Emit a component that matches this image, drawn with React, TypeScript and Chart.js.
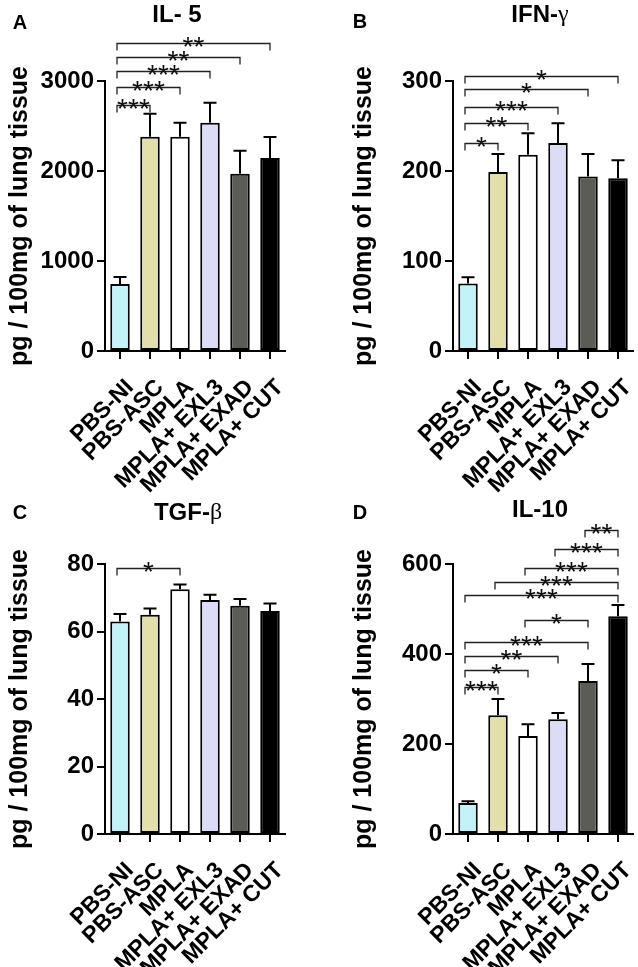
import React, { useEffect, useRef } from 'react';
import { Chart, registerables } from 'chart.js';

Chart.register(...registerables);

// ---------- data ----------
const categories = ['PBS-NI', 'PBS-ASC', 'MPLA', 'MPLA+ EXL3', 'MPLA+ EXAD', 'MPLA+ CUT'];
const barColors = ['#c2f3f9', '#e2e0a8', '#ffffff', '#dcdcf8', '#5a5c55', '#000000'];

const il5Mean = [745, 2380, 2380, 2535, 1970, 2145];
const il5Sem = [78, 255, 155, 222, 255, 233];
const il5Ticks = [0, 1000, 2000, 3000];
// [from, to, level, stars]
const il5Brackets: [number, number, number, string][] = [
  [0, 1, 2733, '***'],
  [0, 2, 2930, '***'],
  [0, 3, 3114, '***'],
  [0, 4, 3270, '**'],
  [0, 5, 3426, '**'],
];

const ifnMean = [75, 199, 218, 231, 194, 192];
const ifnSem = [7, 20, 24, 22, 25, 20];
const ifnTicks = [0, 100, 200, 300];
const ifnBrackets: [number, number, number, string][] = [
  [0, 1, 231, '*'],
  [0, 2, 253, '**'],
  [0, 3, 271, '***'],
  [0, 4, 291, '*'],
  [0, 5, 306, '*'],
];

const tgfMean = [63, 65, 72.5, 69.3, 67.6, 66.1];
const tgfSem = [2.2, 1.8, 1.4, 1.6, 2.0, 2.2];
const tgfTicks = [0, 20, 40, 60, 80];
const tgfBrackets: [number, number, number, string][] = [[0, 2, 78.8, '*']];

const il10Mean = [69, 264, 218, 255, 340, 484];
const il10Sem = [4, 36, 26, 14, 38, 25];
const il10Ticks = [0, 200, 400, 600];
const il10Brackets: [number, number, number, string][] = [
  [0, 1, 327, '***'],
  [0, 2, 364, '*'],
  [0, 3, 396, '**'],
  [0, 4, 427, '***'],
  [2, 4, 476, '*'],
  [0, 5, 531, '***'],
  [1, 5, 560, '***'],
  [2, 5, 591, '***'],
  [3, 5, 633, '***'],
  [4, 5, 676, '**'],
];

const yAxisTitle = 'pg / 100mg of lung tissue';

// ---------- styling ----------
const SANS = '"Liberation Sans", Arial, sans-serif';
const SERIF = '"Liberation Serif", "Times New Roman", serif';
const W = 319;
const H = 500;
const AREA_TOP = 81;
const AREA_BOTTOM = 351;

type Part = { t: string; f: string };
type PanelCfg = {
  letter: string;
  title: Part[];
  mean: number[];
  sem: number[];
  ticks: number[];
  brackets: [number, number, number, string][];
  left: number;
  top: number;
  axisLeft: number;
  padRight: number;
  titleX: number;
  titleY: number;
  letterX: number;
  letterY: number;
  yTitlePad: number;
};

const TITLE_BOLD = `bold 24px ${SANS}`;
const TITLE_GREEK = `24px ${SERIF}`;

const panels: PanelCfg[] = [
  {
    letter: 'A', title: [{ t: 'IL- 5', f: TITLE_BOLD }], mean: il5Mean, sem: il5Sem, ticks: il5Ticks,
    brackets: il5Brackets, left: 0, top: 0, axisLeft: 105, padRight: 34, titleX: 177, titleY: 15,
    letterX: 20, letterY: 23, yTitlePad: 5,
  },
  {
    letter: 'B', title: [{ t: 'IFN-', f: TITLE_BOLD }, { t: 'γ', f: TITLE_GREEK }], mean: ifnMean, sem: ifnSem,
    ticks: ifnTicks, brackets: ifnBrackets, left: 319, top: 0, axisLeft: 134, padRight: 5, titleX: 221,
    titleY: 15, letterX: 41, letterY: 22, yTitlePad: 30,
  },
  {
    letter: 'C', title: [{ t: 'TGF-', f: TITLE_BOLD }, { t: 'β', f: TITLE_GREEK }], mean: tgfMean, sem: tgfSem,
    ticks: tgfTicks, brackets: tgfBrackets, left: 0, top: 483, axisLeft: 105, padRight: 34, titleX: 188,
    titleY: 30, letterX: 20, letterY: 30, yTitlePad: 5,
  },
  {
    letter: 'D', title: [{ t: 'IL-10', f: TITLE_BOLD }], mean: il10Mean, sem: il10Sem, ticks: il10Ticks,
    brackets: il10Brackets, left: 319, top: 483, axisLeft: 134, padRight: 5, titleX: 221, titleY: 27,
    letterX: 41, letterY: 30, yTitlePad: 30,
  },
];

function makeOverlay(p: PanelCfg) {
  return {
    id: 'overlay' + p.letter,
    afterDatasetsDraw(chart: any) {
      const ctx: CanvasRenderingContext2D = chart.ctx;
      const meta = chart.getDatasetMeta(0);
      const ys = chart.scales.y;
      ctx.save();
      // error bars (upper only)
      ctx.strokeStyle = '#000';
      ctx.lineWidth = 2;
      p.mean.forEach((m, i) => {
        const bar = meta.data[i];
        const yb = ys.getPixelForValue(m);
        const yt = ys.getPixelForValue(m + p.sem[i]);
        ctx.beginPath();
        ctx.moveTo(bar.x, yb);
        ctx.lineTo(bar.x, yt);
        ctx.moveTo(bar.x - 6.5, yt);
        ctx.lineTo(bar.x + 6.5, yt);
        ctx.stroke();
      });
      // significance brackets
      ctx.strokeStyle = '#222';
      ctx.lineWidth = 1.3;
      ctx.fillStyle = '#111';
      ctx.font = `28px ${SANS}`;
      ctx.textAlign = 'center';
      ctx.textBaseline = 'alphabetic';
      p.brackets.forEach(([a, b, lvl, stars]) => {
        const x1 = meta.data[a].x - 3;
        const x2 = meta.data[b].x;
        const y = Math.round(ys.getPixelForValue(lvl)) + 0.5;
        ctx.beginPath();
        ctx.moveTo(x1, y + 7);
        ctx.lineTo(x1, y);
        ctx.lineTo(x2, y);
        ctx.lineTo(x2, y + 7);
        ctx.stroke();
        const mid = (x1 + x2) / 2;
        const n = stars.length;
        for (let k = 0; k < n; k++) {
          const sx = mid + (k - (n - 1) / 2) * 11;
          ctx.fillText('*', sx, y + 12);
        }
      });
      // title
      ctx.fillStyle = '#000';
      ctx.textBaseline = 'middle';
      ctx.textAlign = 'left';
      let total = 0;
      p.title.forEach((part) => {
        ctx.font = part.f;
        total += ctx.measureText(part.t).width;
      });
      let tx = p.titleX - total / 2;
      p.title.forEach((part) => {
        ctx.font = part.f;
        ctx.fillText(part.t, tx, p.titleY);
        tx += ctx.measureText(part.t).width;
      });
      // panel letter
      ctx.font = `bold 20px ${SANS}`;
      ctx.textAlign = 'center';
      ctx.fillText(p.letter, p.letterX, p.letterY);
      ctx.restore();
    },
  };
}

function Panel({ p }: { p: PanelCfg }) {
  const ref = useRef<HTMLCanvasElement>(null);
  useEffect(() => {
    const t = p.ticks;
    const chart = new Chart(ref.current as HTMLCanvasElement, {
      type: 'bar',
      data: {
        labels: categories,
        datasets: [
          {
            data: p.mean,
            backgroundColor: barColors,
            borderColor: '#000',
            borderWidth: 2,
            borderSkipped: false,
            barPercentage: 0.65,
            categoryPercentage: 1,
          },
        ],
      },
      options: {
        animation: false,
        responsive: false,
        events: [],
        layout: { padding: { top: AREA_TOP, right: p.padRight, left: 0, bottom: 0 } },
        plugins: { legend: { display: false }, tooltip: { enabled: false }, title: { display: false } },
        scales: {
          x: {
            grid: { display: true, drawOnChartArea: false, drawTicks: true, tickLength: 8, lineWidth: 2, color: '#000', offset: false },
            border: { display: true, width: 2, color: '#000' },
            ticks: {
              autoSkip: false,
              minRotation: 45,
              maxRotation: 45,
              color: '#000',
              padding: 15,
              labelOffset: 10,
              font: { family: SANS, size: 23, weight: 'bold' },
            },
            afterFit: (s: any) => {
              s.height = H - AREA_BOTTOM;
              s.paddingLeft = 0;
              s.paddingRight = 0;
            },
          },
          y: {
            min: t[0],
            max: t[t.length - 1],
            grid: { display: true, drawOnChartArea: false, drawTicks: true, tickLength: 8, lineWidth: 2, color: '#000' },
            border: { display: true, width: 2, color: '#000' },
            ticks: {
              stepSize: t[1] - t[0],
              color: '#000',
              padding: 3,
              callback: (v: any) => String(v),
              font: { family: SANS, size: 24, weight: 'bold' },
            },
            title: {
              display: true,
              text: yAxisTitle,
              color: '#000',
              padding: { top: p.yTitlePad, bottom: 0 },
              font: { family: SANS, size: 25, weight: 'bold' },
            },
            afterFit: (s: any) => {
              s.width = p.axisLeft;
              s.paddingTop = 0;
              s.paddingBottom = 0;
            },
          },
        },
      } as any,
      plugins: [makeOverlay(p)],
    });
    return () => chart.destroy();
  }, [p]);
  return (
    <canvas
      ref={ref}
      width={W}
      height={H}
      style={{ position: 'absolute', left: p.left, top: p.top, width: W, height: H, display: 'block' }}
    />
  );
}

export default function App() {
  return (
    <div style={{ position: 'absolute', left: 0, top: 0, width: 638, height: 967, background: '#fff', overflow: 'hidden' }}>
      {panels.map((p) => (
        <Panel key={p.letter} p={p} />
      ))}
    </div>
  );
}
